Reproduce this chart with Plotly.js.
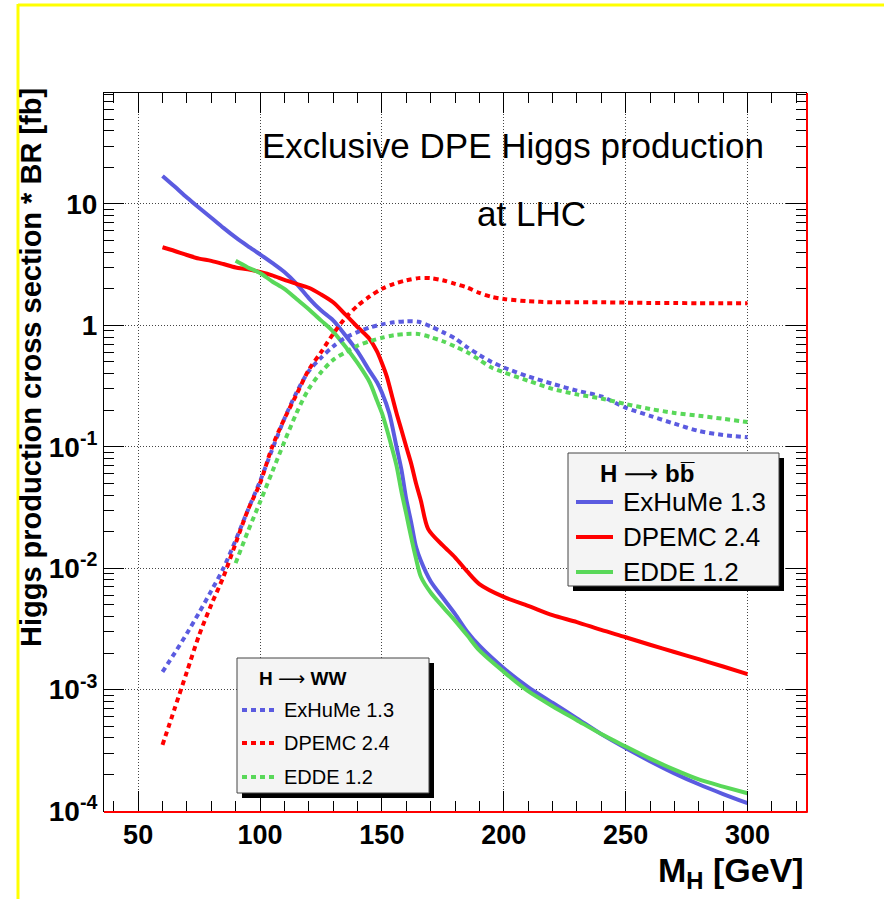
<!DOCTYPE html>
<html><head><meta charset="utf-8">
<script src="https://cdn.plot.ly/plotly-3.0.1.min.js"></script>
<style>html,body{margin:0;padding:0;background:#fff;} #chart{width:884px;height:899px;}</style>
</head><body><div id="chart"></div>
<script>
// ---------- data (M_H in GeV, sigma*BR in fb) ----------
const massExHuMeBB = [60,65,70,75,80,85,90,95,100,105,110,115,120,125,130,135,140,145,148,150,153,156,158,160,162,164,166,170,175,180,185,190,200,210,220,230,240,250,260,270,280,290,300];
const xsecExHuMeBB = [17,13.9,11.3,9.3,7.7,6.35,5.3,4.5,3.85,3.27,2.75,2.2,1.68,1.33,1.1,0.83,0.61,0.42,0.34,0.28,0.19,0.1,0.065,0.037,0.024,0.015,0.0115,0.0078,0.0057,0.0042,0.003,0.0023,0.0015,0.00105,0.00078,0.00058,0.00043,0.00033,0.000257,0.000204,0.000166,0.000138,0.000116];

const massDPEMCBB = [60,65,70,75,80,85,90,95,100,105,110,115,120,125,130,135,140,145,148,150,152,154,156,158,160,162,164,166,169,175,180,185,190,200,210,220,230,240,250,260,270,280,290,300];
const xsecDPEMCBB = [4.4,4.1,3.8,3.55,3.4,3.2,3.0,2.9,2.75,2.58,2.37,2.2,2.04,1.8,1.55,1.23,0.97,0.77,0.61,0.49,0.38,0.27,0.19,0.138,0.1,0.073,0.05,0.036,0.021,0.0154,0.0123,0.0094,0.0074,0.0058,0.0049,0.0041,0.0036,0.0031,0.0027,0.00234,0.00204,0.00178,0.00155,0.00134];

const massEDDEBB = [90,95,100,105,110,115,120,125,130,135,140,145,148,150,152,154,156,158,160,162,164,166,170,175,180,185,190,200,210,220,230,240,250,260,270,280,290,300];
const xsecEDDEBB = [3.4,3.0,2.7,2.3,2.0,1.65,1.36,1.1,0.89,0.67,0.49,0.34,0.24,0.19,0.14,0.1,0.07,0.043,0.028,0.018,0.012,0.0085,0.0063,0.0048,0.0037,0.0028,0.0021,0.0014,0.00097,0.00073,0.00056,0.00043,0.00034,0.00027,0.000219,0.000182,0.000159,0.00014];

const massExHuMeWW = [60,65,70,75,80,85,90,95,100,105,110,115,120,125,130,135,140,145,150,155,160,165,170,175,180,185,190,195,200,210,220,230,240,250,260,270,280,290,300];
const xsecExHuMeWW = [0.0014,0.002,0.0029,0.0043,0.0065,0.01,0.017,0.03,0.052,0.095,0.17,0.28,0.42,0.54,0.67,0.79,0.88,0.96,1.02,1.06,1.08,1.07,0.98,0.88,0.78,0.66,0.57,0.5,0.45,0.38,0.33,0.29,0.26,0.21,0.18,0.155,0.135,0.125,0.12];

const massDPEMCWW = [60,65,70,75,80,85,90,95,100,105,110,115,120,125,130,135,140,145,150,155,160,165,170,175,180,185,190,195,200,210,220,230,240,250,260,270,280,290,300];
const xsecDPEMCWW = [0.00035,0.0007,0.0014,0.0028,0.005,0.0085,0.016,0.03,0.05,0.1,0.17,0.27,0.43,0.6,0.85,1.15,1.45,1.73,2.0,2.2,2.35,2.45,2.45,2.35,2.2,2.05,1.85,1.72,1.65,1.58,1.55,1.55,1.55,1.54,1.53,1.53,1.52,1.52,1.52];

const massEDDEWW = [90,95,100,105,110,115,120,125,130,135,140,145,150,155,160,165,170,175,180,185,190,195,200,210,220,230,240,250,260,270,280,290,300];
const xsecEDDEWW = [0.011,0.02,0.035,0.062,0.11,0.19,0.3,0.41,0.52,0.6,0.68,0.74,0.79,0.83,0.85,0.85,0.8,0.74,0.67,0.6,0.52,0.45,0.41,0.35,0.3,0.27,0.25,0.225,0.205,0.19,0.18,0.17,0.16];

const generators = ['ExHuMe 1.3','DPEMC 2.4','EDDE 1.2'];
const yTickVals = [1e-4,1e-3,1e-2,1e-1,1,10];
const yTickText = ['10<sup>-4</sup>','10<sup>-3</sup>','10<sup>-2</sup>','10<sup>-1</sup>','1','10'];
const titleLine1 = 'Exclusive DPE Higgs production';
const titleLine2 = 'at LHC';
const yTitle = 'Higgs production cross section * BR [fb]';
const xTitle = 'M<sub>H</sub> [GeV]';
const ARROW = '<span style="font-family:DejaVu Sans;font-weight:normal">⟶</span>';
const bbHeader = 'H ' + ARROW + ' bb\u0305';
const wwHeader = 'H ' + ARROW + ' WW';

// ---------- styles ----------
const BLUE = '#5b5be0', RED = '#ff0000', GREEN = '#59d859';
const colors = [BLUE, RED, GREEN];
const DOT = '5px,4px';
const W = 884, H = 899;
const L = 104, R = 806, T = 93, B = 811;
const px = v => (v - L) / (R - L);
const py = v => (B - v) / (B - T);

const traces = [
  {x: massExHuMeBB, y: xsecExHuMeBB, color: BLUE, dash: 'solid'},
  {x: massDPEMCBB,  y: xsecDPEMCBB,  color: RED,  dash: 'solid'},
  {x: massEDDEBB,   y: xsecEDDEBB,   color: GREEN,dash: 'solid'},
  {x: massExHuMeWW, y: xsecExHuMeWW, color: BLUE, dash: DOT},
  {x: massDPEMCWW,  y: xsecDPEMCWW,  color: RED,  dash: DOT},
  {x: massEDDEWW,   y: xsecEDDEWW,   color: GREEN,dash: DOT}
].map(t => ({x: t.x, y: t.y, type: 'scatter', mode: 'lines', showlegend: false,
  line: {color: t.color, width: 4, dash: t.dash, shape: 'spline', smoothing: 0.8}, hoverinfo: 'skip'}));

const minorY = [];
for (let e = -4; e <= 1; e++) for (let k = 2; k <= 9; k++) minorY.push(k * Math.pow(10, e));

const shapes = [];
const annotations = [];

// canvas yellow border
shapes.push({type:'line', xref:'paper', yref:'paper', x0: px(18), x1: px(884), y0: py(5), y1: py(5), line:{color:'#ffff00', width:3}});
shapes.push({type:'line', xref:'paper', yref:'paper', x0: px(18), x1: px(18), y0: py(4), y1: py(899), line:{color:'#ffff00', width:3}});
// red frame edges
shapes.push({type:'line', xref:'paper', yref:'paper', x0: px(104), x1: px(807.5), y0: py(812), y1: py(812), line:{color:'#ff0000', width:2}});
shapes.push({type:'line', xref:'paper', yref:'paper', x0: px(807), x1: px(807), y0: py(93), y1: py(812.5), line:{color:'#ff0000', width:2}});

function legendBox(x0, y0, x1, y1) {
  shapes.push({type:'rect', xref:'paper', yref:'paper', x0: px(x0+5), x1: px(x1+5), y0: py(y0+5), y1: py(y1+5), line:{width:0}, fillcolor:'#000'});
  shapes.push({type:'rect', xref:'paper', yref:'paper', x0: px(x0), x1: px(x1), y0: py(y0), y1: py(y1), line:{color:'#444', width:1}, fillcolor:'#f4f4f4'});
}
function legendEntry(lx0, lx1, ty, tx, color, dash, label, size) {
  shapes.push({type:'line', xref:'paper', yref:'paper', x0: px(lx0), x1: px(lx1), y0: py(ty), y1: py(ty), line:{color: color, width:4, dash: dash}});
  annotations.push({xref:'paper', yref:'paper', x: px(tx), y: py(ty), xanchor:'left', yanchor:'middle', showarrow:false,
    text: label, font:{family:'Liberation Sans, Arial, sans-serif', size:size, color:'#000'}});
}

// bb legend
legendBox(568, 453, 779, 586);
annotations.push({xref:'paper', yref:'paper', x: px(647), y: py(474), xanchor:'center', yanchor:'middle', showarrow:false,
  text: '<b>' + bbHeader + '</b>', font:{family:'Liberation Sans, Arial, sans-serif', size:24, color:'#000'}});
generators.forEach((g, i) => legendEntry(576, 613, [502, 537, 572][i], 621, colors[i], 'solid', g, 26));

// WW legend
legendBox(237, 658, 429, 793);
annotations.push({xref:'paper', yref:'paper', x: px(302), y: py(678), xanchor:'center', yanchor:'middle', showarrow:false,
  text: '<b>' + wwHeader + '</b>', font:{family:'Liberation Sans, Arial, sans-serif', size:19, color:'#000'}});
generators.forEach((g, i) => legendEntry(242, 277, [710, 743, 777][i], 282, colors[i], DOT, g, 20));

// title text
annotations.push({xref:'paper', yref:'paper', x: px(513), y: py(145), xanchor:'center', yanchor:'middle', showarrow:false,
  text: titleLine1, font:{family:'Liberation Sans, Arial, sans-serif', size:35, color:'#000'}});
annotations.push({xref:'paper', yref:'paper', x: px(531), y: py(213), xanchor:'center', yanchor:'middle', showarrow:false,
  text: titleLine2, font:{family:'Liberation Sans, Arial, sans-serif', size:35, color:'#000'}});
// axis titles
annotations.push({xref:'paper', yref:'paper', x: px(31), y: py(368), xanchor:'center', yanchor:'middle', showarrow:false, textangle:-90,
  text: '<b>' + yTitle + '</b>', font:{family:'Liberation Sans, Arial, sans-serif', size:29, color:'#000'}});
annotations.push({xref:'paper', yref:'paper', x: px(806), y: py(872), xanchor:'right', yanchor:'middle', showarrow:false,
  text: '<b>' + xTitle + '</b>', font:{family:'Liberation Sans, Arial, sans-serif', size:34, color:'#000'}});

const layout = {
  width: W, height: H,
  margin: {l: L, r: W - R, t: T, b: H - B, pad: 0},
  paper_bgcolor: '#fff', plot_bgcolor: '#fff',
  showlegend: false,
  xaxis: {
    range: [36, 324], tick0: 0, dtick: 50,
    ticks: 'inside', ticklen: 20, tickwidth: 1, tickcolor: '#000',
    showline: true, linecolor: '#000', linewidth: 1, mirror: 'ticks',
    showgrid: true, gridcolor: '#444', gridwidth: 1, griddash: '1px,2px',
    zeroline: false,
    tickfont: {family: 'Liberation Sans, Arial, sans-serif', size: 27, color: '#000', weight: 'bold'},
    minor: {tick0: 0, dtick: 10, ticks: 'inside', ticklen: 10, tickwidth: 1, tickcolor: '#000', showgrid: false}
  },
  yaxis: {
    type: 'log', range: [-4, 1.914],
    tickmode: 'array', tickvals: yTickVals, ticktext: yTickText,
    ticks: 'inside', ticklen: 20, tickwidth: 1, tickcolor: '#000',
    showline: true, linecolor: '#000', linewidth: 1, mirror: 'ticks',
    showgrid: true, gridcolor: '#444', gridwidth: 1, griddash: '1px,2px',
    zeroline: false,
    tickfont: {family: 'Liberation Sans, Arial, sans-serif', size: 28, color: '#000', weight: 'bold'},
    minor: {tickmode: 'array', tickvals: minorY, ticks: 'inside', ticklen: 10, tickwidth: 1, tickcolor: '#000', showgrid: false}
  },
  shapes: shapes,
  annotations: annotations
};

Plotly.newPlot('chart', traces, layout, {staticPlot: true, displayModeBar: false});
</script>
</body></html>
